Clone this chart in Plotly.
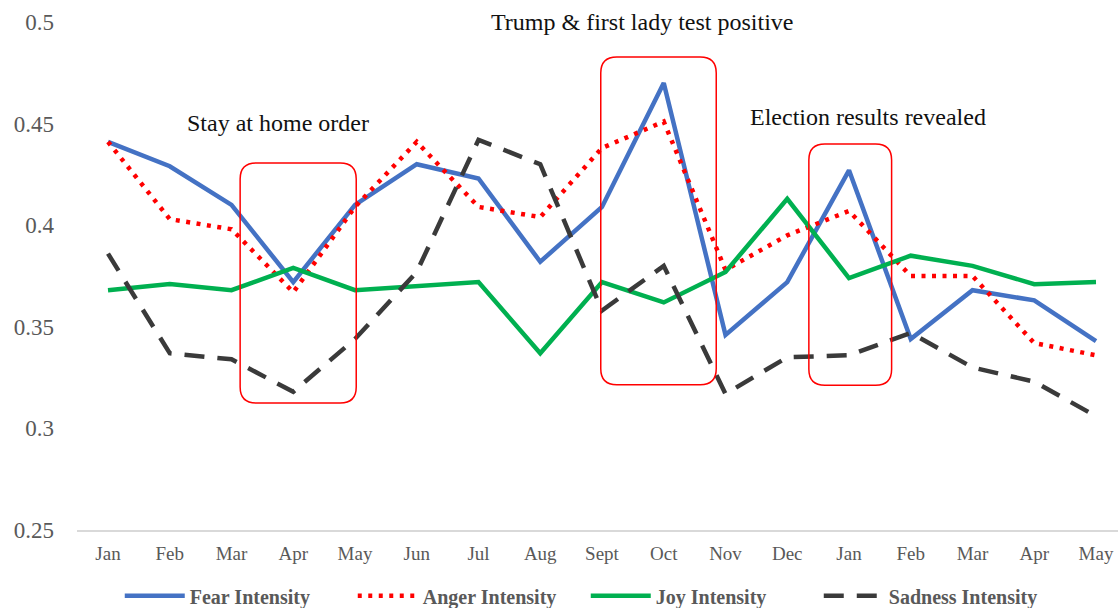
import plotly.graph_objects as go

# Monthly emotion intensity, Jan 2020 – May 2021
months = ["Jan", "Feb", "Mar", "Apr", "May", "Jun", "Jul", "Aug", "Sept",
          "Oct", "Nov", "Dec", "Jan", "Feb", "Mar", "Apr", "May"]

fear = [0.441, 0.429, 0.410, 0.372, 0.410, 0.430, 0.423, 0.382, 0.409,
        0.470, 0.346, 0.372, 0.427, 0.344, 0.368, 0.363, 0.343]
anger = [0.441, 0.403, 0.398, 0.367, 0.409, 0.441, 0.409, 0.404, 0.438,
         0.451, 0.378, 0.395, 0.407, 0.375, 0.375, 0.342, 0.336]
joy = [0.368, 0.371, 0.368, 0.379, 0.368, 0.370, 0.372, 0.337, 0.372,
       0.362, 0.377, 0.413, 0.374, 0.385, 0.380, 0.371, 0.372]
sadness = [0.386, 0.337, 0.334, 0.318, 0.344, 0.377, 0.442, 0.430, 0.358,
           0.380, 0.317, 0.335, 0.336, 0.347, 0.330, 0.323, 0.306]

events = ["Stay at home order", "Trump & first lady test positive",
          "Election results revealed"]

idx = list(range(len(months)))

fig = go.Figure()
series = [
    ("Fear Intensity", fear, dict(color="#4472C4", width=4.5)),
    ("Anger Intensity", anger, dict(color="#FF0000", width=4.5, dash="4px,6.5px")),
    ("Joy Intensity", joy, dict(color="#00B050", width=4.5)),
    ("Sadness Intensity", sadness, dict(color="#3A3A3A", width=4.5, dash="20px,13px")),
]
for name, vals, line in series:
    fig.add_trace(go.Scatter(x=idx, y=vals, name=name, mode="lines", line=line))

# Plot geometry (pixels) used to convert corner radii into data units
W, H = 1120, 608
ML, MR, MT, MB = 77, 2, 22, 78
X0 = -0.502
STEP = 61.75  # px per category
X1 = X0 + (W - ML - MR) / STEP
Y0, Y1 = 0.25, 0.5
PX_Y = (Y1 - Y0) / (H - MT - MB)


def rounded_box(x0, x1, y0, y1, r=16):
    rx, ry = r / STEP, r * PX_Y
    return (f"M {x0+rx},{y1} L {x1-rx},{y1} Q {x1},{y1} {x1},{y1-ry} "
            f"L {x1},{y0+ry} Q {x1},{y0} {x1-rx},{y0} "
            f"L {x0+rx},{y0} Q {x0},{y0} {x0},{y0+ry} "
            f"L {x0},{y1-ry} Q {x0},{y1} {x0+rx},{y1} Z")


boxes = [(2.14, 4.02, 0.3125, 0.4306),
         (7.98, 9.85, 0.3215, 0.4828),
         (11.35, 12.69, 0.3212, 0.4400)]
for b in boxes:
    fig.add_shape(type="path", path=rounded_box(*b), xref="x", yref="y",
                  line=dict(color="#FF0000", width=1.5), fillcolor="rgba(0,0,0,0)")

label_pos = [(2.75, 0.4503), (8.64, 0.5), (12.31, 0.4534)]
for text, (ax, ay) in zip(events, label_pos):
    fig.add_annotation(x=ax, y=ay, xref="x", yref="y", text=text, showarrow=False,
                       font=dict(family="Liberation Serif", size=24, color="#111111"),
                       xanchor="center", yanchor="middle")

fig.update_layout(
    width=W, height=H,
    margin=dict(l=ML, r=MR, t=MT, b=MB),
    paper_bgcolor="white", plot_bgcolor="white",
    font=dict(family="Liberation Serif", color="#595959"),
    showlegend=True,
    legend=dict(orientation="h", xref="container", yref="container",
                x=0.523, xanchor="center", y=0.02, yanchor="middle",
                font=dict(family="Liberation Serif", size=20, color="#595959",
                          weight="bold"),
                entrywidth=158, itemwidth=60),
)
fig.update_xaxes(range=[X0, X1], tickmode="array", tickvals=idx, ticktext=months,
                 showgrid=False, zeroline=False, showline=True, linecolor="#D9D9D9",
                 linewidth=1.5, ticks="",
                 tickfont=dict(family="Liberation Serif", size=19, color="#595959"),
                 ticklabelstandoff=5)
fig.update_yaxes(range=[Y0, Y1], tickmode="array",
                 tickvals=[0.25, 0.3, 0.35, 0.4, 0.45, 0.5],
                 ticktext=["0.25", "0.3", "0.35", "0.4", "0.45", "0.5"],
                 showgrid=False, zeroline=False, showline=False, ticks="",
                 tickfont=dict(family="Liberation Serif", size=23, color="#595959"),
                 ticklabelstandoff=22)

fig.write_html("out.html")
